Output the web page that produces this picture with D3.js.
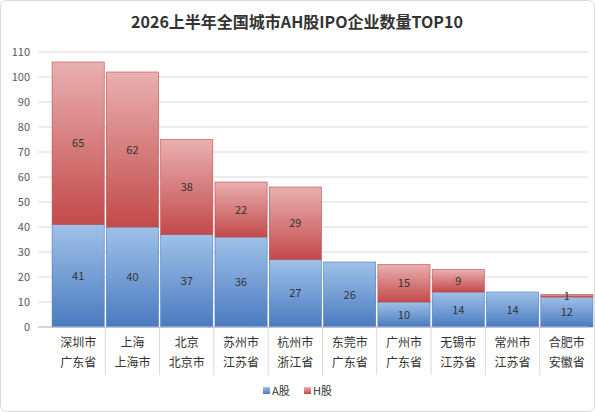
<!DOCTYPE html>
<html><head><meta charset="utf-8">
<script src="https://cdn.jsdelivr.net/npm/d3@7"></script>
<style>body{margin:0;background:#fff}svg{font-family:"Noto Sans CJK SC","Noto Sans",sans-serif}</style>
</head><body><svg id="c" width="595" height="412"></svg>
<script>
const cities=["深圳市","上海","北京","苏州市","杭州市","东莞市","广州市","无锡市","常州市","合肥市"];
const provinces=["广东省","上海市","北京市","江苏省","浙江省","广东省","广东省","江苏省","江苏省","安徽省"];
const aShares=[41,40,37,36,27,26,10,14,14,12];
const hShares=[65,62,38,22,29,0,15,9,0,1];
const yTicks=d3.range(0,111,10);
const svg=d3.select("#c");
const defs=svg.append("defs");
function grad(id,c1,c2){const g=defs.append("linearGradient").attr("id",id).attr("x1",0).attr("y1",0).attr("x2",0).attr("y2",1);
g.append("stop").attr("offset","0%").attr("stop-color",c1);g.append("stop").attr("offset","100%").attr("stop-color",c2);}
grad("ga","#9fc1e8","#4a7bc0");grad("gh","#eab0b0","#c24a4a");
svg.append("rect").attr("x",0.5).attr("y",0.5).attr("width",594).attr("height",411).attr("rx",6).attr("fill","#fff").attr("stroke","#d9d9d9");
svg.append("text").attr("x",297).attr("y",28).attr("text-anchor","middle").attr("font-size",16).attr("font-weight","bold").attr("fill","#333").text("2026上半年全国城市AH股IPO企业数量TOP10");
const x=d3.scaleBand().domain(cities.map((c,i)=>i)).range([51,594]);
const y=d3.scaleLinear().domain([0,110]).range([327,52]);
yTicks.forEach(t=>{svg.append("line").attr("x1",38).attr("x2",588).attr("y1",y(t)).attr("y2",y(t)).attr("stroke","#d9d9d9");
svg.append("text").attr("x",30).attr("y",y(t)+4).attr("text-anchor","end").attr("font-size",11).attr("fill","#595959").text(t);});
const bw=x.bandwidth()*0.96;
cities.forEach((c,i)=>{
 const cx=x(i)+x.bandwidth()/2;
 svg.append("rect").attr("x",cx-bw/2).attr("y",y(aShares[i])).attr("width",bw).attr("height",y(0)-y(aShares[i])).attr("fill","url(#ga)").attr("stroke","#4a7bc0").attr("stroke-width",0.6);
 svg.append("text").attr("x",cx).attr("y",(y(0)+y(aShares[i]))/2+4).attr("text-anchor","middle").attr("font-size",11).attr("fill","#333").text(aShares[i]);
 if(hShares[i]>0){
  const t=aShares[i]+hShares[i];
  svg.append("rect").attr("x",cx-bw/2).attr("y",y(t)).attr("width",bw).attr("height",y(aShares[i])-y(t)).attr("fill","url(#gh)").attr("stroke","#c24a4a").attr("stroke-width",0.6);
  svg.append("text").attr("x",cx).attr("y",(y(aShares[i])+y(t))/2+4).attr("text-anchor","middle").attr("font-size",11).attr("fill","#333").text(hShares[i]);
 }
 svg.append("text").attr("x",cx).attr("y",347).attr("text-anchor","middle").attr("font-size",12).attr("fill","#333").text(c);
 svg.append("text").attr("x",cx).attr("y",367).attr("text-anchor","middle").attr("font-size",12).attr("fill","#333").text(provinces[i]);
 if(i>0) svg.append("line").attr("x1",x(i)).attr("x2",x(i)).attr("y1",327).attr("y2",375).attr("stroke","#d9d9d9");
});
svg.append("line").attr("x1",38).attr("x2",588).attr("y1",327).attr("y2",327).attr("stroke","#bfbfbf");
const lg=svg.append("g").attr("font-size",11).attr("fill","#333");
[["A股","ga",263],["H股","gh",304]].forEach(([t,g,lx])=>{
 lg.append("rect").attr("x",lx).attr("y",387).attr("width",7).attr("height",7).attr("fill",`url(#${g})`);
 lg.append("text").attr("x",lx+9).attr("y",395).text(t);
});
</script></body></html>
